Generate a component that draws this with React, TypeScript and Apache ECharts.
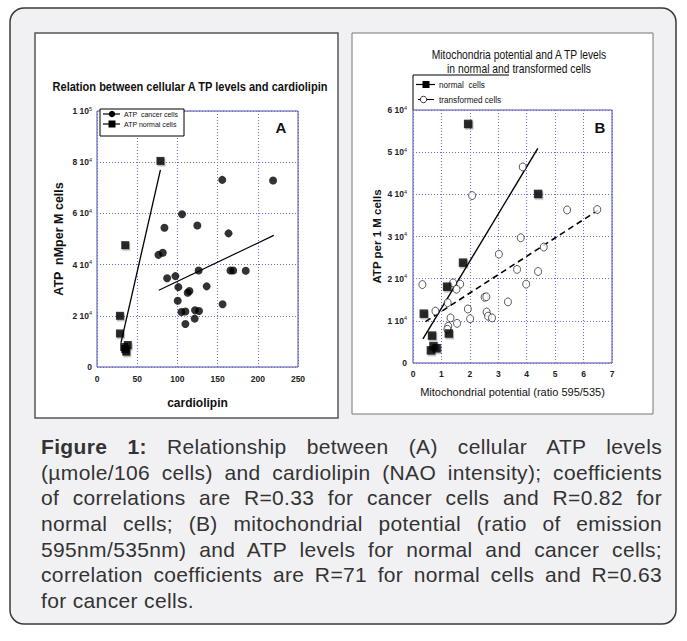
import React, { useEffect, useRef } from "react";
import * as echarts from "echarts";

// ---------- Panel A data ----------
const cancerA: [number, number][] = [
  [155.8, 73100], [219, 72850], [105.8, 59700], [83.9, 54400], [124.8, 55300],
  [163.6, 52200], [76.4, 43800], [81.8, 44600], [87.2, 34700], [97.5, 35500],
  [126.4, 37700], [166, 37700], [169.4, 37700], [185, 37600], [101.2, 31200],
  [136.4, 31500], [112.8, 29000], [115, 29700], [100.4, 25900], [105, 21500],
  [109.9, 21700], [121.9, 22200], [126.9, 21900], [121.5, 18900], [109.9, 16800],
  [156.2, 24500],
];
const normalA: [number, number][] = [
  [78.9, 80500], [35.1, 47600], [28.5, 20000], [28.5, 13100], [33.8, 7800],
  [38.2, 8600], [36.4, 6000], [35.2, 7000],
];
const cancerFitA: [number, number][] = [[76.9, 30000], [219.8, 51400]];
const normalFitA: [number, number][] = [[29.8, 9400], [78.9, 77000]];
const xTicksA = ["0", "50", "100", "150", "200", "250"];
const yTicksA = ["0", "2 10^4", "4 10^4", "6 10^4", "8 10^4", "1 10^5"];

// ---------- Panel B data ----------
const normalB: [number, number][] = [
  [1.94, 56700], [4.4, 40100], [1.76, 23800], [1.2, 18100], [0.38, 11700],
  [1.26, 7000], [0.67, 6500], [0.63, 3000], [0.72, 4000], [0.83, 3500],
];
const transformedB: [number, number][] = [
  [3.86, 46500], [2.08, 39700], [5.42, 36300], [6.48, 36400], [3.79, 29700],
  [3.02, 25800], [4.6, 27500], [3.66, 22200], [4.4, 21700], [0.33, 18600],
  [3.98, 18700], [1.41, 19000], [1.66, 18700], [1.53, 17500], [1.22, 14300],
  [2.52, 15600], [2.58, 15700], [3.34, 14500], [0.79, 12300], [1.93, 12800],
  [2.59, 12100], [2.64, 11100], [2.78, 10700], [1.32, 10700], [2.01, 10500],
  [1.55, 9400], [1.24, 8700], [1.21, 8000],
];
const normalFitB: [number, number][] = [[0.35, 5700], [4.39, 50900]];
const transformedFitB: [number, number][] = [[0.44, 9800], [6.5, 36200]];
const xTicksB = ["0", "1", "2", "3", "4", "5", "6", "7"];
const yTicksB = ["0", "1 10^4", "2 10^4", "3 10^4", "4 10^4", "5 10^4", "6 10^4"];

// ---------- Texts ----------
const titleA = "Relation between cellular A TP levels and cardiolipin";
const titleB = ["Mitochondria potential and A TP levels", "in normal and transformed cells"];
const legendA = ["ATP  cancer cells", "ATP normal cells"];
const legendB = ["normal  cells", "transformed cells"];
const captionBold = "Figure 1:";
const captionLines = [
  " Relationship between (A) cellular ATP levels",
  "(µmole/106 cells) and cardiolipin (NAO intensity); coefficients",
  "of correlations are R=0.33 for cancer cells and R=0.82 for",
  "normal cells; (B) mitochondrial potential (ratio of emission",
  "595nm/535nm) and ATP levels for normal and cancer cells;",
  "correlation coefficients are R=71 for normal cells and R=0.63",
  "for cancer cells.",
];

const FS = "'Liberation Sans',Arial,Helvetica,sans-serif";
const AXIS_BLUE = "#4a4aa6";
const GRID_BLUE = "#6c6cd0";

function tickFmt(labels: string[], step: number) {
  return (v: number) => {
    const s = labels[Math.round(v / step)];
    if (s === undefined) return "";
    const m = s.match(/^(\S+) 10\^(\d+)$/);
    if (!m) return `{n|${s}}`;
    return `{n|${m[1]} 10}{e|${m[2]}}`;
  };
}
function xFmt(labels: string[], step: number) {
  return (v: number) => labels[Math.round(v / step)] ?? "";
}

const tickRich = {
  n: { fontSize: 8.5, fontFamily: FS, fontWeight: "bold", color: "#222", lineHeight: 11 },
  e: { fontSize: 5.5, fontFamily: FS, color: "#222", verticalAlign: "top", lineHeight: 11 },
};

export default function App() {
  const ref = useRef<HTMLDivElement>(null);
  useEffect(() => {
    document.body.style.margin = "0";
    if (!ref.current) return;
    const chart = echarts.init(ref.current, undefined, { renderer: "svg" });
    const sqShadow = { shadowColor: "rgba(0,0,0,0.35)", shadowOffsetX: 1, shadowOffsetY: 1.5, shadowBlur: 0 };
    const option: any = {
      animation: false,
      grid: [
        { left: 97, top: 111, width: 201, height: 256, show: true, borderColor: AXIS_BLUE, borderWidth: 1 },
        { left: 413, top: 110, width: 199, height: 253, show: true, borderColor: AXIS_BLUE, borderWidth: 1 },
      ],
      xAxis: [
        {
          gridIndex: 0, type: "value", min: 0, max: 250, interval: 50,
          name: "cardiolipin", nameLocation: "middle", nameGap: 30,
          nameTextStyle: { fontFamily: FS, fontSize: 12, fontWeight: "bold", color: "#111" },
          axisLine: { show: false }, axisTick: { show: false },
          axisLabel: { formatter: xFmt(xTicksA, 50), fontFamily: FS, fontSize: 8.5, fontWeight: "bold", color: "#222", margin: 7 },
          splitLine: { show: true, lineStyle: { type: [1, 2], color: GRID_BLUE, width: 1 } },
        },
        {
          gridIndex: 1, type: "value", min: 0, max: 7, interval: 1,
          name: "Mitochondrial potential (ratio 595/535)", nameLocation: "middle", nameGap: 23,
          nameTextStyle: { fontFamily: FS, fontSize: 11, fontWeight: "normal", color: "#111" },
          axisLine: { show: false }, axisTick: { show: false },
          axisLabel: { formatter: xFmt(xTicksB, 1), fontFamily: FS, fontSize: 8.5, fontWeight: "bold", color: "#222", margin: 6 },
          splitLine: { show: true, lineStyle: { type: [1, 2], color: GRID_BLUE, width: 1 } },
        },
      ],
      yAxis: [
        {
          gridIndex: 0, type: "value", min: 0, max: 100000, interval: 20000,
          name: "ATP  nMper M cells", nameLocation: "middle", nameGap: 32, nameRotate: 90,
          nameTextStyle: { fontFamily: FS, fontSize: 12.5, fontWeight: "bold", color: "#111" },
          axisLine: { show: false }, axisTick: { show: false },
          axisLabel: { formatter: tickFmt(yTicksA, 20000), rich: tickRich, margin: 5 },
          splitLine: { show: true, lineStyle: { type: [1, 2], color: GRID_BLUE, width: 1 } },
        },
        {
          gridIndex: 1, type: "value", min: 0, max: 60000, interval: 10000,
          name: "ATP per 1 M cells", nameLocation: "middle", nameGap: 27, nameRotate: 90,
          nameTextStyle: { fontFamily: FS, fontSize: 11.5, fontWeight: "bold", color: "#111" },
          axisLine: { show: false }, axisTick: { show: false },
          axisLabel: { formatter: tickFmt(yTicksB, 10000), rich: tickRich, margin: 6 },
          splitLine: { show: true, lineStyle: { type: [1, 2], color: GRID_BLUE, width: 1 } },
        },
      ],
      series: [
        {
          name: legendA[0], type: "scatter", xAxisIndex: 0, yAxisIndex: 0, data: cancerA,
          symbol: "circle", symbolSize: 8, itemStyle: { color: "#000" }, z: 3,
        },
        {
          name: legendA[1], type: "scatter", xAxisIndex: 0, yAxisIndex: 0, data: normalA,
          symbol: "rect", symbolSize: 8, itemStyle: { color: "#000", ...sqShadow }, z: 3,
        },
        {
          type: "line", xAxisIndex: 0, yAxisIndex: 0, data: cancerFitA, symbol: "none",
          lineStyle: { color: "#000", width: 1.2 }, z: 2,
        },
        {
          type: "line", xAxisIndex: 0, yAxisIndex: 0, data: normalFitA, symbol: "none",
          lineStyle: { color: "#000", width: 1.3 }, z: 2,
        },
        {
          name: legendB[0], type: "scatter", xAxisIndex: 1, yAxisIndex: 1, data: normalB,
          symbol: "rect", symbolSize: 8.5, itemStyle: { color: "#000", ...sqShadow }, z: 4,
        },
        {
          name: legendB[1], type: "scatter", xAxisIndex: 1, yAxisIndex: 1, data: transformedB,
          symbol: "circle", symbolSize: [7, 8],
          itemStyle: { color: "#fff", borderColor: "#000", borderWidth: 0.8 }, z: 3,
        },
        {
          type: "line", xAxisIndex: 1, yAxisIndex: 1, data: normalFitB, symbol: "none",
          lineStyle: { color: "#000", width: 1.4 }, z: 2,
        },
        {
          type: "line", xAxisIndex: 1, yAxisIndex: 1, data: transformedFitB, symbol: "none",
          lineStyle: { color: "#000", width: 1.6, type: [6, 4] }, z: 2,
        },
      ],
      graphic: [
        // outer rounded frame
        {
          type: "rect", z: -20, silent: true,
          shape: { x: 10, y: 8, width: 666, height: 616, r: 14 },
          style: { fill: "#f1f1f3", stroke: "#3a3a3a", lineWidth: 1.5 },
        },
        // panel frames
        {
          type: "rect", z: -10, silent: true,
          shape: { x: 35, y: 33, width: 303, height: 385 },
          style: { fill: "#fff", stroke: "#555", lineWidth: 1.5 },
        },
        {
          type: "rect", z: -10, silent: true,
          shape: { x: 352, y: 33, width: 301, height: 381 },
          style: { fill: "#fff", stroke: "#777", lineWidth: 1 },
        },
        // titles (condensed look)
        {
          type: "text", z: 11, x: 190, y: 87, scaleX: 0.85,
          style: { text: titleA, fontFamily: FS, fontSize: 13, fontWeight: "bold", fill: "#111", align: "center", verticalAlign: "middle" },
        },
        {
          type: "text", z: 11, x: 519, y: 55, scaleX: 0.86,
          style: { text: titleB[0], fontFamily: FS, fontSize: 12, fill: "#111", align: "center", verticalAlign: "middle" },
        },
        {
          type: "text", z: 11, x: 519, y: 68.5, scaleX: 0.86,
          style: { text: titleB[1], fontFamily: FS, fontSize: 12, fill: "#111", align: "center", verticalAlign: "middle" },
        },
        // legend A
        {
          type: "rect", z: 10, silent: true,
          shape: { x: 100, y: 109, width: 84, height: 27 },
          style: { fill: "#fff", stroke: "#000", lineWidth: 1 },
        },
        { type: "line", z: 11, shape: { x1: 103, y1: 114, x2: 120, y2: 114 }, style: { stroke: "#000", lineWidth: 1.2 } },
        { type: "circle", z: 11, shape: { cx: 112, cy: 114, r: 3.2 }, style: { fill: "#000" } },
        {
          type: "text", z: 11, x: 124, y: 114, scaleX: 0.88,
          style: { text: legendA[0], fontFamily: FS, fontSize: 8, fill: "#111", verticalAlign: "middle" },
        },
        { type: "line", z: 11, shape: { x1: 103, y1: 124, x2: 120, y2: 124 }, style: { stroke: "#000", lineWidth: 1.2 } },
        { type: "rect", z: 11, shape: { x: 108.5, y: 120.5, width: 7, height: 7 }, style: { fill: "#000" } },
        {
          type: "text", z: 11, x: 124, y: 124, scaleX: 0.88,
          style: { text: legendA[1], fontFamily: FS, fontSize: 8, fill: "#111", verticalAlign: "middle" },
        },
        // panel letters
        {
          type: "text", z: 11, x: 281, y: 127,
          style: { text: "A", fontFamily: FS, fontSize: 15, fontWeight: "bold", fill: "#111", align: "center", verticalAlign: "middle" },
        },
        {
          type: "text", z: 11, x: 600, y: 127,
          style: { text: "B", fontFamily: FS, fontSize: 15, fontWeight: "bold", fill: "#111", align: "center", verticalAlign: "middle" },
        },
        // legend B
        { type: "line", z: 11, shape: { x1: 413, y1: 75, x2: 509, y2: 75 }, style: { stroke: "#000", lineWidth: 1 } },
        { type: "line", z: 11, shape: { x1: 413, y1: 75, x2: 413, y2: 110 }, style: { stroke: "#000", lineWidth: 1 } },
        { type: "line", z: 11, shape: { x1: 416, y1: 84.5, x2: 435, y2: 84.5 }, style: { stroke: "#000", lineWidth: 1.2 } },
        { type: "rect", z: 11, shape: { x: 422.5, y: 81, width: 7, height: 7 }, style: { fill: "#000" } },
        {
          type: "text", z: 11, x: 439, y: 84.5, scaleX: 0.86,
          style: { text: legendB[0], fontFamily: FS, fontSize: 9.5, fill: "#111", verticalAlign: "middle" },
        },
        { type: "line", z: 11, shape: { x1: 418, y1: 99.5, x2: 434, y2: 99.5 }, style: { stroke: "#000", lineWidth: 1 } },
        { type: "circle", z: 12, shape: { cx: 423.5, cy: 99.5, r: 3.2 }, style: { fill: "#fff", stroke: "#000", lineWidth: 0.8 } },
        {
          type: "text", z: 11, x: 439, y: 99.5, scaleX: 0.86,
          style: { text: legendB[1], fontFamily: FS, fontSize: 9.5, fill: "#111", verticalAlign: "middle" },
        },
      ],
    };
    chart.setOption(option);
    return () => chart.dispose();
  }, []);

  return (
    <div style={{ position: "relative", width: 687, height: 641, background: "#fff" }}>
      <div ref={ref} style={{ position: "absolute", left: 0, top: 0, width: 687, height: 641 }} />
      <div
        style={{
          position: "absolute", left: 41, top: 434, width: 621,
          fontFamily: FS, fontSize: 21, lineHeight: "25.7px", color: "#333",
          letterSpacing: "0.35px",
        }}
      >
        {captionLines.map((line, i) => {
          const last = i === captionLines.length - 1;
          return (
            <div
              key={i}
              style={{
                height: 25.7, whiteSpace: "nowrap",
                textAlign: last ? "left" : "justify",
                textAlignLast: last ? "left" : "justify",
              }}
            >
              {i === 0 ? <b style={{ fontWeight: "bold" }}>{captionBold}</b> : null}
              {line}
            </div>
          );
        })}
      </div>
    </div>
  );
}
